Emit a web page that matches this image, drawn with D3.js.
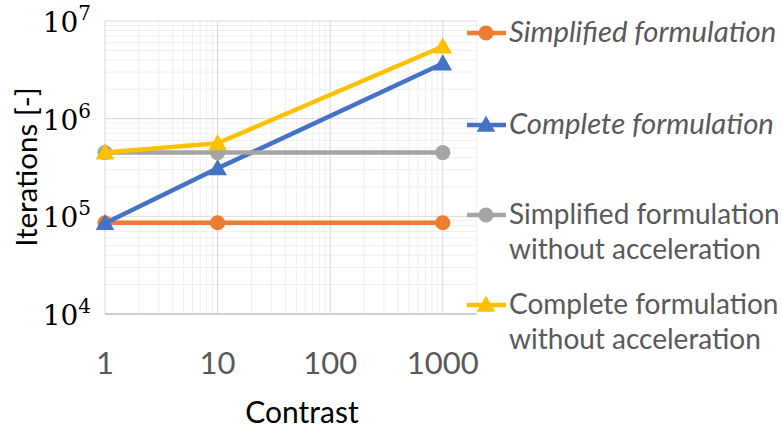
<!DOCTYPE html>
<html><head><meta charset="utf-8">
<script src="https://cdn.jsdelivr.net/npm/d3@7"></script>
<style>body{margin:0;background:#fff}svg{display:block}</style>
</head><body>
<svg id="c" width="782" height="435"></svg>
<script>
const contrast = [1, 10, 1000];
const simplified = [86000, 86000, 86000];
const complete = [85000, 310000, 3670000];
const simplifiedNoAcc = [450000, 450000, 450000];
const completeNoAcc = [450000, 560000, 5480000];
const seriesNames = [["Simplified formulation"], ["Complete formulation"], ["Simplified formulation", "without acceleration"], ["Complete formulation", "without acceleration"]];
const seriesItalic = [true, true, false, false];
const seriesColors = ["#ED7D31", "#4472C4", "#A5A5A5", "#FFC000"];
const seriesMarkers = ["circle", "triangle", "circle", "triangle"];
const xTicks = [1, 10, 100, 1000];
const xTickLabels = ["1", "10", "100", "1000"];
const yTicks = [1e4, 1e5, 1e6, 1e7];
const yTickExp = ["4", "5", "6", "7"];

const series = [simplified, complete, simplifiedNoAcc, completeNoAcc].map((v, i) => ({
  name: seriesNames[i], italic: seriesItalic[i], color: seriesColors[i], marker: seriesMarkers[i],
  values: v.map((y, j) => ({x: contrast[j], y}))
}));

const svg = d3.select("#c");
const L = 105, R = 476.7, T = 21, B = 314;
const x = d3.scaleLog().domain([1, 2000]).range([L, R]);
const y = d3.scaleLog().domain([1e4, 1e7]).range([B, T]);

// minor grid
const g = svg.append("g");
const xMinor = [], yMinor = [];
for (let d = 1; d <= 1000; d *= 10) for (let k = 2; k <= 9; k++) if (d * k <= 2000) xMinor.push(d * k);
for (let d = 1e4; d < 1e7; d *= 10) for (let k = 2; k <= 9; k++) yMinor.push(d * k);
g.selectAll(".xm").data(xMinor).join("line")
  .attr("x1", d => x(d)).attr("x2", d => x(d)).attr("y1", T).attr("y2", B)
  .attr("stroke", "#efefef").attr("stroke-width", 1);
g.selectAll(".ym").data(yMinor).join("line")
  .attr("y1", d => y(d)).attr("y2", d => y(d)).attr("x1", L).attr("x2", R)
  .attr("stroke", "#efefef").attr("stroke-width", 1);
g.selectAll(".xM").data(xTicks).join("line")
  .attr("x1", d => x(d)).attr("x2", d => x(d)).attr("y1", T).attr("y2", B)
  .attr("stroke", "#d9d9d9").attr("stroke-width", 1);
g.selectAll(".yM").data(yTicks.slice(1)).join("line")
  .attr("y1", d => y(d)).attr("y2", d => y(d)).attr("x1", L).attr("x2", R)
  .attr("stroke", "#d9d9d9").attr("stroke-width", 1);
svg.append("line").attr("x1", L).attr("x2", R).attr("y1", B).attr("y2", B)
  .attr("stroke", "#bfbfbf").attr("stroke-width", 1.3);

// x tick labels
svg.selectAll(".xl").data(xTicks).join("text")
  .attr("x", d => x(d)).attr("y", 374).attr("text-anchor", "middle")
  .attr("font-family", "Lato, sans-serif").attr("font-size", 31).attr("fill", "#595959")
  .text((d, i) => xTickLabels[i]);

// y tick labels
const yl = svg.selectAll(".yl").data(yTicks).join("text")
  .attr("x", 91).attr("y", d => y(d) + 11).attr("text-anchor", "end")
  .attr("font-family", "'DejaVu Serif', serif").attr("font-size", 28).attr("fill", "#000");
yl.append("tspan").text("10");
yl.append("tspan").attr("font-size", 20).attr("dy", -12).text((d, i) => yTickExp[i]);

// axis titles
svg.append("text").attr("x", 302).attr("y", 423).attr("text-anchor", "middle")
  .attr("font-family", "Lato, sans-serif").attr("font-size", 30).attr("fill", "#000").text("Contrast");
svg.append("text").attr("transform", "translate(37,167) rotate(-90)").attr("text-anchor", "middle")
  .attr("font-family", "Lato, sans-serif").attr("font-size", 29.5).attr("fill", "#000").text("Iterations [-]");

// lines and markers
const line = d3.line().x(d => x(d.x)).y(d => y(d.y));
const tri = d3.symbol().type(d3.symbolTriangle).size(150);
const circ = d3.symbol().type(d3.symbolCircle).size(180);
function marker(sel, s) {
  sel.attr("d", s.marker === "circle" ? circ() : tri()).attr("fill", s.color);
}
series.forEach(s => {
  const sg = svg.append("g");
  sg.append("path").datum(s.values).attr("d", line).attr("fill", "none")
    .attr("stroke", s.color).attr("stroke-width", 4.5).attr("stroke-linejoin", "round");
  sg.selectAll("path.m").data(s.values).join("path").attr("class", "m")
    .attr("transform", d => `translate(${x(d.x)},${y(d.y) + (s.marker === "triangle" ? 1.5 : 0)})`)
    .call(sel => marker(sel, s));
});

// legend
const legY = [33, 125, 215, 305];
series.forEach((s, i) => {
  const lg = svg.append("g").attr("transform", `translate(0,${legY[i]})`);
  lg.append("line").attr("x1", 467).attr("x2", 506).attr("y1", 0).attr("y2", 0)
    .attr("stroke", s.color).attr("stroke-width", 4.5);
  lg.append("path").attr("transform", `translate(486,${s.marker === "triangle" ? 1.5 : 0})`).call(sel => marker(sel, s));
  const t = lg.append("text").attr("x", 509).attr("y", 9)
    .attr("font-family", "Lato, sans-serif").attr("font-size", s.italic ? 29.3 : 28).attr("fill", "#595959")
    .attr("font-style", s.italic ? "italic" : "normal");
  s.name.forEach((n, k) => t.append("tspan").attr("x", 509).attr("dy", k === 0 ? 0 : 35).text(n));
});
</script>
</body></html>
